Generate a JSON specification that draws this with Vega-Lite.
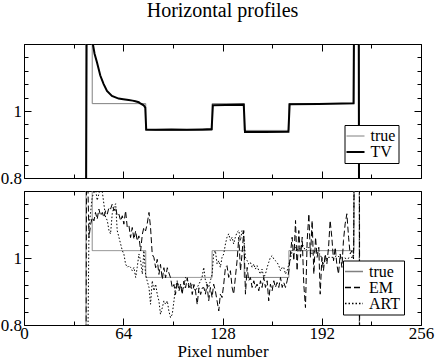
{
  "$schema": "https://vega.github.io/schema/vega-lite/v6.json",
  "padding": {"left": -1, "top": 0, "right": 0, "bottom": 0},
  "background": "white",
  "title": {"text": "Horizontal profiles", "font": "Liberation Serif", "fontSize": 20, "fontWeight": "normal", "color": "black", "anchor": "middle", "frame": "group", "offset": 22.5},
  "config": {
    "view": {"stroke": "black", "strokeWidth": 1},
    "axis": {"domain": false, "grid": false, "labelFont": "Liberation Serif", "labelFontSize": 17, "labelColor": "black", "tickColor": "black", "titleFont": "Liberation Serif", "titleFontSize": 17, "titleFontWeight": "normal", "titleColor": "black", "labelPadding": 9.5, "labelFlush": false},
    "line": {"strokeCap": "butt", "strokeJoin": "miter"}
  },
  "vconcat": [
    {
      "width": 397, "height": 134,
      "data": {"name": "top"},
      "layer": [
        {
          "mark": {"type": "line", "clip": true},
          "encoding": {
            "x": {"field": "x", "type": "quantitative", "scale": {"domain": [0, 256], "nice": false, "zero": false}, "axis": {"orient": "bottom", "values": [0, 64, 128, 192, 256], "tickSize": -7, "labels": false, "title": null}},
            "y": {"field": "v", "type": "quantitative", "scale": {"domain": [0.8, 1.2], "nice": false, "zero": false}, "axis": {"orient": "left", "values": [0.8, 1, 1.2], "tickSize": -7, "labelExpr": "datum.value == 1 ? '1' : (datum.value < 0.81 ? '0.8' : '')", "title": null}},
            "color": {"field": "s", "type": "nominal", "scale": {"domain": ["true", "TV"], "range": ["#808080", "#000000"]}, "legend": {"orient": "none", "legendX": 320.5, "legendY": 81, "title": null, "symbolType": "M-1.8,0H1.8", "strokeColor": "black", "fillColor": "white", "padding": 3, "labelFont": "Liberation Serif", "labelFontSize": 16, "labelColor": "black", "symbolSize": 100, "labelOffset": 7, "rowPadding": -4, "encode": {"symbols": {"update": {"strokeWidth": {"signal": "datum.value == 'TV' ? 2 : 1"}}}}}},
            "strokeWidth": {"field": "s", "type": "nominal", "scale": {"domain": ["true", "TV"], "range": [1, 2]}, "legend": null},
            "order": {"value": null}
          }
        },
        {
          "mark": {"type": "line", "opacity": 0, "clip": true},
          "encoding": {
            "x": {"field": "x", "type": "quantitative", "axis": {"orient": "bottom", "values": [32, 96, 160, 224], "tickSize": -4, "labels": false, "title": null}},
            "y": {"field": "v", "type": "quantitative", "axis": {"orient": "left", "values": [0.84, 0.88, 0.92, 0.96, 1.04, 1.08, 1.12, 1.16], "tickSize": -4, "labels": false, "title": null}}
          }
        },
        {
          "mark": {"type": "line", "opacity": 0, "clip": true},
          "encoding": {
            "x": {"field": "x", "type": "quantitative", "axis": {"orient": "top", "values": [0, 64, 128, 192, 256], "tickSize": -7, "labels": false, "title": null}},
            "y": {"field": "v", "type": "quantitative", "axis": {"orient": "right", "values": [0.8, 1, 1.2], "tickSize": -7, "labels": false, "title": null}}
          }
        },
        {
          "mark": {"type": "line", "opacity": 0, "clip": true},
          "encoding": {
            "x": {"field": "x", "type": "quantitative", "axis": {"orient": "top", "values": [32, 96, 160, 224], "tickSize": -4, "labels": false, "title": null}},
            "y": {"field": "v", "type": "quantitative", "axis": {"orient": "right", "values": [0.84, 0.88, 0.92, 0.96, 1.04, 1.08, 1.12, 1.16], "tickSize": -4, "labels": false, "title": null}}
          }
        }
      ],
      "resolve": {"axis": {"x": "independent", "y": "independent"}}
    },
    {
      "width": 397, "height": 134,
      "data": {"name": "bot"},
      "layer": [
        {
          "mark": {"type": "line", "clip": true, "strokeWidth": 1},
          "encoding": {
            "x": {"field": "x", "type": "quantitative", "scale": {"domain": [0, 256], "nice": false, "zero": false}, "axis": {"orient": "bottom", "values": [0, 64, 128, 192, 256], "tickSize": -7, "labelPadding": 7, "labelExpr": "datum.label", "title": "Pixel number", "titlePadding": 2}},
            "y": {"field": "v", "type": "quantitative", "scale": {"domain": [0.8, 1.2], "nice": false, "zero": false}, "axis": {"orient": "left", "values": [0.8, 1, 1.2], "tickSize": -7, "labelExpr": "datum.value == 1 ? '1' : (datum.value < 0.81 ? '0.8' : '')", "title": null}},
            "color": {"field": "t", "type": "nominal", "scale": {"domain": ["true", "EM", "ART"], "range": ["#808080", "#000000", "#000000"]}, "legend": {"orient": "none", "legendX": 319, "legendY": 69.5, "title": null, "symbolType": "M-1.8,0H1.8", "strokeColor": "black", "fillColor": "white", "padding": 3, "labelFont": "Liberation Serif", "labelFontSize": 16, "labelColor": "black", "symbolSize": 100, "labelOffset": 7, "rowPadding": -4, "encode": {"symbols": {"update": {"stroke": {"signal": "datum.value == 'true' ? '#606060' : 'black'"}, "strokeWidth": {"value": 1}, "strokeDash": {"signal": "datum.value == 'EM' ? [6, 3] : (datum.value == 'ART' ? [1.5, 2] : [1, 0])"}}}}}},
            "strokeDash": {"field": "t", "type": "nominal", "scale": {"domain": ["true", "EM", "ART"], "range": [[1, 0], [6, 3], [1.5, 2]]}, "legend": null},
            "order": {"value": null}
          }
        },
        {
          "mark": {"type": "line", "opacity": 0, "clip": true},
          "encoding": {
            "x": {"field": "x", "type": "quantitative", "axis": {"orient": "bottom", "values": [32, 96, 160, 224], "tickSize": -4, "labels": false, "title": null}},
            "y": {"field": "v", "type": "quantitative", "axis": {"orient": "left", "values": [0.84, 0.88, 0.92, 0.96, 1.04, 1.08, 1.12, 1.16], "tickSize": -4, "labels": false, "title": null}}
          }
        },
        {
          "mark": {"type": "line", "opacity": 0, "clip": true},
          "encoding": {
            "x": {"field": "x", "type": "quantitative", "axis": {"orient": "top", "values": [0, 64, 128, 192, 256], "tickSize": -7, "labels": false, "title": null}},
            "y": {"field": "v", "type": "quantitative", "axis": {"orient": "right", "values": [0.8, 1, 1.2], "tickSize": -7, "labels": false, "title": null}}
          }
        },
        {
          "mark": {"type": "line", "opacity": 0, "clip": true},
          "encoding": {
            "x": {"field": "x", "type": "quantitative", "axis": {"orient": "top", "values": [32, 96, 160, 224], "tickSize": -4, "labels": false, "title": null}},
            "y": {"field": "v", "type": "quantitative", "axis": {"orient": "right", "values": [0.84, 0.88, 0.92, 0.96, 1.04, 1.08, 1.12, 1.16], "tickSize": -4, "labels": false, "title": null}}
          }
        }
      ],
      "resolve": {"axis": {"x": "independent", "y": "independent"}}
    }
  ],
  "spacing": 3,
  "resolve": {"scale": {"color": "independent", "strokeWidth": "independent", "strokeDash": "independent"}, "legend": {"color": "independent", "strokeWidth": "independent", "strokeDash": "independent"}},
  "datasets": {
    "top": [
      {"s": "true", "x": 0, "v": 0}, {"s": "true", "x": 40, "v": 0}, {"s": "true", "x": 40, "v": 1.5}, {"s": "true", "x": 44, "v": 1.5}, {"s": "true", "x": 44, "v": 1.022}, {"s": "true", "x": 78.5, "v": 1.022}, {"s": "true", "x": 78.5, "v": 0.942}, {"s": "true", "x": 121.3, "v": 0.942}, {"s": "true", "x": 121.3, "v": 1.022}, {"s": "true", "x": 142, "v": 1.022}, {"s": "true", "x": 142, "v": 0.942}, {"s": "true", "x": 170.8, "v": 0.942}, {"s": "true", "x": 170.8, "v": 1.022}, {"s": "true", "x": 212.8, "v": 1.022}, {"s": "true", "x": 212.8, "v": 1.5}, {"s": "true", "x": 216.2, "v": 1.5}, {"s": "true", "x": 216.2, "v": 0}, {"s": "true", "x": 256, "v": 0},
      {"s": "TV", "x": 0, "v": 0}, {"s": "TV", "x": 39.5, "v": 0}, {"s": "TV", "x": 40.5, "v": 1.4}, {"s": "TV", "x": 43.3, "v": 1.4}, {"s": "TV", "x": 44.4, "v": 1.2}, {"s": "TV", "x": 45.5, "v": 1.171}, {"s": "TV", "x": 47, "v": 1.146}, {"s": "TV", "x": 49.2, "v": 1.106}, {"s": "TV", "x": 51.3, "v": 1.081}, {"s": "TV", "x": 53.5, "v": 1.06}, {"s": "TV", "x": 56.7, "v": 1.045}, {"s": "TV", "x": 61, "v": 1.037}, {"s": "TV", "x": 64, "v": 1.035}, {"s": "TV", "x": 67.5, "v": 1.033}, {"s": "TV", "x": 70, "v": 1.031}, {"s": "TV", "x": 71.8, "v": 1.029}, {"s": "TV", "x": 74, "v": 1.026}, {"s": "TV", "x": 75, "v": 1.023}, {"s": "TV", "x": 77.2, "v": 1.017}, {"s": "TV", "x": 78.2, "v": 1.01}, {"s": "TV", "x": 78.8, "v": 0.945}, {"s": "TV", "x": 85, "v": 0.944}, {"s": "TV", "x": 95, "v": 0.945}, {"s": "TV", "x": 105, "v": 0.944}, {"s": "TV", "x": 115, "v": 0.945}, {"s": "TV", "x": 121, "v": 0.946}, {"s": "TV", "x": 121.8, "v": 1.017}, {"s": "TV", "x": 130, "v": 1.018}, {"s": "TV", "x": 141.7, "v": 1.019}, {"s": "TV", "x": 142.5, "v": 0.937}, {"s": "TV", "x": 155, "v": 0.937}, {"s": "TV", "x": 170.5, "v": 0.938}, {"s": "TV", "x": 171.3, "v": 1.02}, {"s": "TV", "x": 190, "v": 1.021}, {"s": "TV", "x": 212.5, "v": 1.023}, {"s": "TV", "x": 213, "v": 1.4}, {"s": "TV", "x": 215.8, "v": 1.4}, {"s": "TV", "x": 216.3, "v": 0}, {"s": "TV", "x": 256, "v": 0}
    ],
    "bot": [
      {"t": "true", "x": 0, "v": 0}, {"t": "true", "x": 40, "v": 0}, {"t": "true", "x": 40, "v": 1.5}, {"t": "true", "x": 44, "v": 1.5}, {"t": "true", "x": 44, "v": 1.022}, {"t": "true", "x": 78.5, "v": 1.022}, {"t": "true", "x": 78.5, "v": 0.942}, {"t": "true", "x": 121.3, "v": 0.942}, {"t": "true", "x": 121.3, "v": 1.022}, {"t": "true", "x": 142, "v": 1.022}, {"t": "true", "x": 142, "v": 0.942}, {"t": "true", "x": 170.8, "v": 0.942}, {"t": "true", "x": 170.8, "v": 1.022}, {"t": "true", "x": 212.8, "v": 1.022}, {"t": "true", "x": 212.8, "v": 1.5}, {"t": "true", "x": 216.2, "v": 1.5}, {"t": "true", "x": 216.2, "v": 0}, {"t": "true", "x": 256, "v": 0},
      {"t": "EM", "x": 0, "v": 0}, {"t": "EM", "x": 39.6, "v": 0}, {"t": "EM", "x": 40.4, "v": 1.4}, {"t": "EM", "x": 41.9, "v": 1.061}, {"t": "EM", "x": 43.0, "v": 1.101}, {"t": "EM", "x": 44.0, "v": 1.121}, {"t": "EM", "x": 45.1, "v": 1.111}, {"t": "EM", "x": 46.1, "v": 1.136}, {"t": "EM", "x": 47.2, "v": 1.116}, {"t": "EM", "x": 48.3, "v": 1.146}, {"t": "EM", "x": 49.4, "v": 1.126}, {"t": "EM", "x": 50.5, "v": 1.136}, {"t": "EM", "x": 51.5, "v": 1.121}, {"t": "EM", "x": 52.6, "v": 1.141}, {"t": "EM", "x": 53.7, "v": 1.131}, {"t": "EM", "x": 54.8, "v": 1.151}, {"t": "EM", "x": 55.8, "v": 1.146}, {"t": "EM", "x": 56.9, "v": 1.161}, {"t": "EM", "x": 58.0, "v": 1.141}, {"t": "EM", "x": 59.1, "v": 1.151}, {"t": "EM", "x": 60.1, "v": 1.126}, {"t": "EM", "x": 61.2, "v": 1.131}, {"t": "EM", "x": 62.3, "v": 1.111}, {"t": "EM", "x": 63.4, "v": 1.126}, {"t": "EM", "x": 64.4, "v": 1.101}, {"t": "EM", "x": 65.5, "v": 1.141}, {"t": "EM", "x": 66.6, "v": 1.091}, {"t": "EM", "x": 67.7, "v": 1.096}, {"t": "EM", "x": 68.7, "v": 1.061}, {"t": "EM", "x": 69.8, "v": 1.091}, {"t": "EM", "x": 70.9, "v": 1.056}, {"t": "EM", "x": 72.0, "v": 1.081}, {"t": "EM", "x": 73.0, "v": 1.051}, {"t": "EM", "x": 74.1, "v": 1.066}, {"t": "EM", "x": 75.2, "v": 1.021}, {"t": "EM", "x": 76.3, "v": 1.071}, {"t": "EM", "x": 77.3, "v": 1.091}, {"t": "EM", "x": 78.4, "v": 1.081}, {"t": "EM", "x": 79.4, "v": 1.101}, {"t": "EM", "x": 80.6, "v": 1.136}, {"t": "EM", "x": 81.6, "v": 1.091}, {"t": "EM", "x": 82.7, "v": 1.011}, {"t": "EM", "x": 83.8, "v": 1.001}, {"t": "EM", "x": 84.9, "v": 0.971}, {"t": "EM", "x": 85.9, "v": 0.996}, {"t": "EM", "x": 87.0, "v": 0.951}, {"t": "EM", "x": 88.0, "v": 0.981}, {"t": "EM", "x": 89.2, "v": 0.936}, {"t": "EM", "x": 90.2, "v": 0.971}, {"t": "EM", "x": 91.3, "v": 0.941}, {"t": "EM", "x": 92.4, "v": 0.971}, {"t": "EM", "x": 93.4, "v": 0.956}, {"t": "EM", "x": 94.5, "v": 0.941}, {"t": "EM", "x": 95.6, "v": 0.911}, {"t": "EM", "x": 96.7, "v": 0.921}, {"t": "EM", "x": 97.7, "v": 0.891}, {"t": "EM", "x": 98.8, "v": 0.931}, {"t": "EM", "x": 99.9, "v": 0.901}, {"t": "EM", "x": 101.0, "v": 0.921}, {"t": "EM", "x": 102.0, "v": 0.891}, {"t": "EM", "x": 103.1, "v": 0.931}, {"t": "EM", "x": 104.2, "v": 0.911}, {"t": "EM", "x": 105.3, "v": 0.941}, {"t": "EM", "x": 106.3, "v": 0.911}, {"t": "EM", "x": 107.4, "v": 0.926}, {"t": "EM", "x": 108.5, "v": 0.891}, {"t": "EM", "x": 109.6, "v": 0.921}, {"t": "EM", "x": 110.6, "v": 0.901}, {"t": "EM", "x": 111.7, "v": 0.861}, {"t": "EM", "x": 112.8, "v": 0.911}, {"t": "EM", "x": 113.9, "v": 0.891}, {"t": "EM", "x": 115.0, "v": 0.911}, {"t": "EM", "x": 116.0, "v": 0.9115}, {"t": "EM", "x": 117.0, "v": 0.892}, {"t": "EM", "x": 118.0, "v": 0.922}, {"t": "EM", "x": 119.1, "v": 0.872}, {"t": "EM", "x": 120.2, "v": 0.912}, {"t": "EM", "x": 121.3, "v": 0.882}, {"t": "EM", "x": 122.3, "v": 0.922}, {"t": "EM", "x": 123.4, "v": 0.902}, {"t": "EM", "x": 124.5, "v": 0.872}, {"t": "EM", "x": 125.6, "v": 0.842}, {"t": "EM", "x": 126.6, "v": 0.892}, {"t": "EM", "x": 127.7, "v": 0.882}, {"t": "EM", "x": 128.8, "v": 0.922}, {"t": "EM", "x": 129.9, "v": 0.972}, {"t": "EM", "x": 130.9, "v": 0.977}, {"t": "EM", "x": 132.0, "v": 0.942}, {"t": "EM", "x": 133.1, "v": 0.962}, {"t": "EM", "x": 134.2, "v": 0.912}, {"t": "EM", "x": 135.2, "v": 0.892}, {"t": "EM", "x": 136.3, "v": 0.942}, {"t": "EM", "x": 137.4, "v": 0.992}, {"t": "EM", "x": 138.5, "v": 1.062}, {"t": "EM", "x": 139.6, "v": 0.962}, {"t": "EM", "x": 140.6, "v": 1.012}, {"t": "EM", "x": 141.7, "v": 1.082}, {"t": "EM", "x": 142.8, "v": 0.892}, {"t": "EM", "x": 143.9, "v": 0.972}, {"t": "EM", "x": 144.9, "v": 0.932}, {"t": "EM", "x": 146.0, "v": 0.942}, {"t": "EM", "x": 147.1, "v": 0.912}, {"t": "EM", "x": 148.2, "v": 0.932}, {"t": "EM", "x": 149.2, "v": 0.912}, {"t": "EM", "x": 150.3, "v": 0.922}, {"t": "EM", "x": 151.4, "v": 0.902}, {"t": "EM", "x": 152.5, "v": 0.932}, {"t": "EM", "x": 153.5, "v": 0.912}, {"t": "EM", "x": 154.6, "v": 0.942}, {"t": "EM", "x": 155.7, "v": 0.912}, {"t": "EM", "x": 156.8, "v": 0.932}, {"t": "EM", "x": 157.8, "v": 0.872}, {"t": "EM", "x": 158.9, "v": 0.922}, {"t": "EM", "x": 160.0, "v": 0.902}, {"t": "EM", "x": 161.1, "v": 0.932}, {"t": "EM", "x": 162.1, "v": 0.912}, {"t": "EM", "x": 163.2, "v": 0.927}, {"t": "EM", "x": 164.3, "v": 0.912}, {"t": "EM", "x": 165.4, "v": 0.942}, {"t": "EM", "x": 166.5, "v": 0.912}, {"t": "EM", "x": 167.5, "v": 0.927}, {"t": "EM", "x": 168.6, "v": 0.912}, {"t": "EM", "x": 169.7, "v": 0.932}, {"t": "EM", "x": 170.8, "v": 0.962}, {"t": "EM", "x": 171.8, "v": 1.012}, {"t": "EM", "x": 172.9, "v": 1.062}, {"t": "EM", "x": 174.0, "v": 0.992}, {"t": "EM", "x": 175.1, "v": 1.112}, {"t": "EM", "x": 176.1, "v": 0.962}, {"t": "EM", "x": 177.2, "v": 1.082}, {"t": "EM", "x": 178.3, "v": 1.002}, {"t": "EM", "x": 179.4, "v": 1.062}, {"t": "EM", "x": 180.4, "v": 0.922}, {"t": "EM", "x": 181.5, "v": 0.852}, {"t": "EM", "x": 182.6, "v": 1.052}, {"t": "EM", "x": 183.7, "v": 1.132}, {"t": "EM", "x": 184.7, "v": 1.002}, {"t": "EM", "x": 185.8, "v": 1.112}, {"t": "EM", "x": 186.9, "v": 0.952}, {"t": "EM", "x": 188.0, "v": 1.062}, {"t": "EM", "x": 189.0, "v": 1.002}, {"t": "EM", "x": 190.1, "v": 1.032}, {"t": "EM", "x": 191.0, "v": 0.892}, {"t": "EM", "x": 192.1, "v": 1.002}, {"t": "EM", "x": 193.1, "v": 0.962}, {"t": "EM", "x": 194.2, "v": 1.012}, {"t": "EM", "x": 195.3, "v": 0.982}, {"t": "EM", "x": 196.4, "v": 1.032}, {"t": "EM", "x": 197.4, "v": 1.112}, {"t": "EM", "x": 198.5, "v": 1.062}, {"t": "EM", "x": 199.6, "v": 0.992}, {"t": "EM", "x": 200.7, "v": 1.032}, {"t": "EM", "x": 201.7, "v": 0.982}, {"t": "EM", "x": 202.8, "v": 0.952}, {"t": "EM", "x": 203.9, "v": 1.012}, {"t": "EM", "x": 205.0, "v": 0.972}, {"t": "EM", "x": 206.0, "v": 1.052}, {"t": "EM", "x": 207.1, "v": 1.102}, {"t": "EM", "x": 208.2, "v": 1.132}, {"t": "EM", "x": 209.3, "v": 1.062}, {"t": "EM", "x": 210.3, "v": 1.012}, {"t": "EM", "x": 211.4, "v": 1.022}, {"t": "EM", "x": 212.5, "v": 0.997}, {"t": "EM", "x": 213.2, "v": 1.4}, {"t": "EM", "x": 216.3, "v": 1.4}, {"t": "EM", "x": 216.6, "v": 0}, {"t": "EM", "x": 256, "v": 0},
      {"t": "ART", "x": 0, "v": 0}, {"t": "ART", "x": 39.7, "v": 0}, {"t": "ART", "x": 41.9, "v": 1.092}, {"t": "ART", "x": 44.0, "v": 1.182}, {"t": "ART", "x": 46.1, "v": 1.207}, {"t": "ART", "x": 47.2, "v": 1.172}, {"t": "ART", "x": 48.3, "v": 1.192}, {"t": "ART", "x": 49.4, "v": 1.212}, {"t": "ART", "x": 50.5, "v": 1.197}, {"t": "ART", "x": 51.5, "v": 1.162}, {"t": "ART", "x": 52.6, "v": 1.122}, {"t": "ART", "x": 53.7, "v": 1.112}, {"t": "ART", "x": 54.8, "v": 1.082}, {"t": "ART", "x": 55.8, "v": 1.072}, {"t": "ART", "x": 56.9, "v": 1.132}, {"t": "ART", "x": 58.0, "v": 1.152}, {"t": "ART", "x": 59.1, "v": 1.162}, {"t": "ART", "x": 60.1, "v": 1.082}, {"t": "ART", "x": 61.2, "v": 1.062}, {"t": "ART", "x": 62.3, "v": 1.042}, {"t": "ART", "x": 63.4, "v": 1.022}, {"t": "ART", "x": 64.4, "v": 1.012}, {"t": "ART", "x": 65.5, "v": 0.982}, {"t": "ART", "x": 66.6, "v": 0.972}, {"t": "ART", "x": 67.7, "v": 0.977}, {"t": "ART", "x": 68.7, "v": 0.972}, {"t": "ART", "x": 69.8, "v": 0.962}, {"t": "ART", "x": 70.9, "v": 0.972}, {"t": "ART", "x": 72.0, "v": 0.942}, {"t": "ART", "x": 73.0, "v": 0.972}, {"t": "ART", "x": 74.1, "v": 1.012}, {"t": "ART", "x": 75.2, "v": 0.992}, {"t": "ART", "x": 76.3, "v": 0.952}, {"t": "ART", "x": 77.3, "v": 1.022}, {"t": "ART", "x": 78.4, "v": 0.952}, {"t": "ART", "x": 79.4, "v": 0.932}, {"t": "ART", "x": 80.6, "v": 0.912}, {"t": "ART", "x": 81.6, "v": 0.862}, {"t": "ART", "x": 82.7, "v": 0.932}, {"t": "ART", "x": 83.8, "v": 0.902}, {"t": "ART", "x": 84.9, "v": 0.922}, {"t": "ART", "x": 85.9, "v": 0.892}, {"t": "ART", "x": 87.0, "v": 0.872}, {"t": "ART", "x": 88.0, "v": 0.832}, {"t": "ART", "x": 89.2, "v": 0.852}, {"t": "ART", "x": 90.2, "v": 0.872}, {"t": "ART", "x": 91.3, "v": 0.862}, {"t": "ART", "x": 92.4, "v": 0.872}, {"t": "ART", "x": 93.4, "v": 0.842}, {"t": "ART", "x": 94.5, "v": 0.822}, {"t": "ART", "x": 95.6, "v": 0.832}, {"t": "ART", "x": 96.7, "v": 0.872}, {"t": "ART", "x": 97.7, "v": 0.912}, {"t": "ART", "x": 98.8, "v": 0.932}, {"t": "ART", "x": 99.9, "v": 0.912}, {"t": "ART", "x": 101.0, "v": 0.922}, {"t": "ART", "x": 102.0, "v": 0.902}, {"t": "ART", "x": 103.1, "v": 0.912}, {"t": "ART", "x": 104.2, "v": 0.942}, {"t": "ART", "x": 105.3, "v": 0.932}, {"t": "ART", "x": 106.3, "v": 0.922}, {"t": "ART", "x": 107.4, "v": 0.912}, {"t": "ART", "x": 108.5, "v": 0.922}, {"t": "ART", "x": 109.6, "v": 0.912}, {"t": "ART", "x": 110.6, "v": 0.902}, {"t": "ART", "x": 111.7, "v": 0.912}, {"t": "ART", "x": 113.9, "v": 0.932}, {"t": "ART", "x": 114.8, "v": 0.942}, {"t": "ART", "x": 115.9, "v": 0.972}, {"t": "ART", "x": 117.0, "v": 0.932}, {"t": "ART", "x": 119.1, "v": 0.912}, {"t": "ART", "x": 121.3, "v": 0.952}, {"t": "ART", "x": 122.3, "v": 1.012}, {"t": "ART", "x": 123.4, "v": 1.022}, {"t": "ART", "x": 124.5, "v": 0.982}, {"t": "ART", "x": 125.6, "v": 0.992}, {"t": "ART", "x": 126.6, "v": 0.972}, {"t": "ART", "x": 127.7, "v": 1.002}, {"t": "ART", "x": 128.8, "v": 1.012}, {"t": "ART", "x": 129.9, "v": 1.042}, {"t": "ART", "x": 130.9, "v": 1.062}, {"t": "ART", "x": 132.0, "v": 1.072}, {"t": "ART", "x": 133.1, "v": 1.052}, {"t": "ART", "x": 134.2, "v": 1.062}, {"t": "ART", "x": 135.2, "v": 1.042}, {"t": "ART", "x": 136.3, "v": 1.062}, {"t": "ART", "x": 137.4, "v": 1.077}, {"t": "ART", "x": 138.5, "v": 1.082}, {"t": "ART", "x": 139.6, "v": 1.052}, {"t": "ART", "x": 140.6, "v": 1.082}, {"t": "ART", "x": 141.7, "v": 1.062}, {"t": "ART", "x": 142.8, "v": 1.002}, {"t": "ART", "x": 143.9, "v": 0.992}, {"t": "ART", "x": 144.9, "v": 0.982}, {"t": "ART", "x": 146.0, "v": 0.987}, {"t": "ART", "x": 147.1, "v": 0.972}, {"t": "ART", "x": 148.2, "v": 0.982}, {"t": "ART", "x": 149.2, "v": 0.967}, {"t": "ART", "x": 150.3, "v": 0.977}, {"t": "ART", "x": 151.4, "v": 0.962}, {"t": "ART", "x": 152.5, "v": 0.952}, {"t": "ART", "x": 153.5, "v": 0.967}, {"t": "ART", "x": 154.6, "v": 0.942}, {"t": "ART", "x": 155.7, "v": 0.952}, {"t": "ART", "x": 156.8, "v": 0.972}, {"t": "ART", "x": 157.8, "v": 0.987}, {"t": "ART", "x": 158.9, "v": 1.002}, {"t": "ART", "x": 160.0, "v": 1.007}, {"t": "ART", "x": 161.1, "v": 0.997}, {"t": "ART", "x": 162.1, "v": 0.992}, {"t": "ART", "x": 163.2, "v": 0.987}, {"t": "ART", "x": 164.3, "v": 0.977}, {"t": "ART", "x": 165.4, "v": 0.962}, {"t": "ART", "x": 166.5, "v": 0.972}, {"t": "ART", "x": 167.5, "v": 0.972}, {"t": "ART", "x": 168.6, "v": 0.952}, {"t": "ART", "x": 169.7, "v": 0.962}, {"t": "ART", "x": 170.8, "v": 0.982}, {"t": "ART", "x": 171.8, "v": 0.997}, {"t": "ART", "x": 172.9, "v": 1.022}, {"t": "ART", "x": 175.1, "v": 1.032}, {"t": "ART", "x": 177.2, "v": 1.022}, {"t": "ART", "x": 179.4, "v": 1.042}, {"t": "ART", "x": 181.5, "v": 1.022}, {"t": "ART", "x": 183.7, "v": 1.032}, {"t": "ART", "x": 185.8, "v": 1.012}, {"t": "ART", "x": 188.0, "v": 1.022}, {"t": "ART", "x": 190.1, "v": 1.012}, {"t": "ART", "x": 191.0, "v": 1.012}, {"t": "ART", "x": 193.1, "v": 0.982}, {"t": "ART", "x": 195.3, "v": 1.002}, {"t": "ART", "x": 197.4, "v": 1.002}, {"t": "ART", "x": 199.6, "v": 1.002}, {"t": "ART", "x": 201.7, "v": 1.007}, {"t": "ART", "x": 203.9, "v": 1.002}, {"t": "ART", "x": 206.0, "v": 1.002}, {"t": "ART", "x": 208.2, "v": 0.997}, {"t": "ART", "x": 210.3, "v": 1.002}, {"t": "ART", "x": 212.5, "v": 1.002}, {"t": "ART", "x": 213.0, "v": 1.4}, {"t": "ART", "x": 216.2, "v": 1.4}, {"t": "ART", "x": 216.5, "v": 0}, {"t": "ART", "x": 256, "v": 0}
    ]
  }
}
